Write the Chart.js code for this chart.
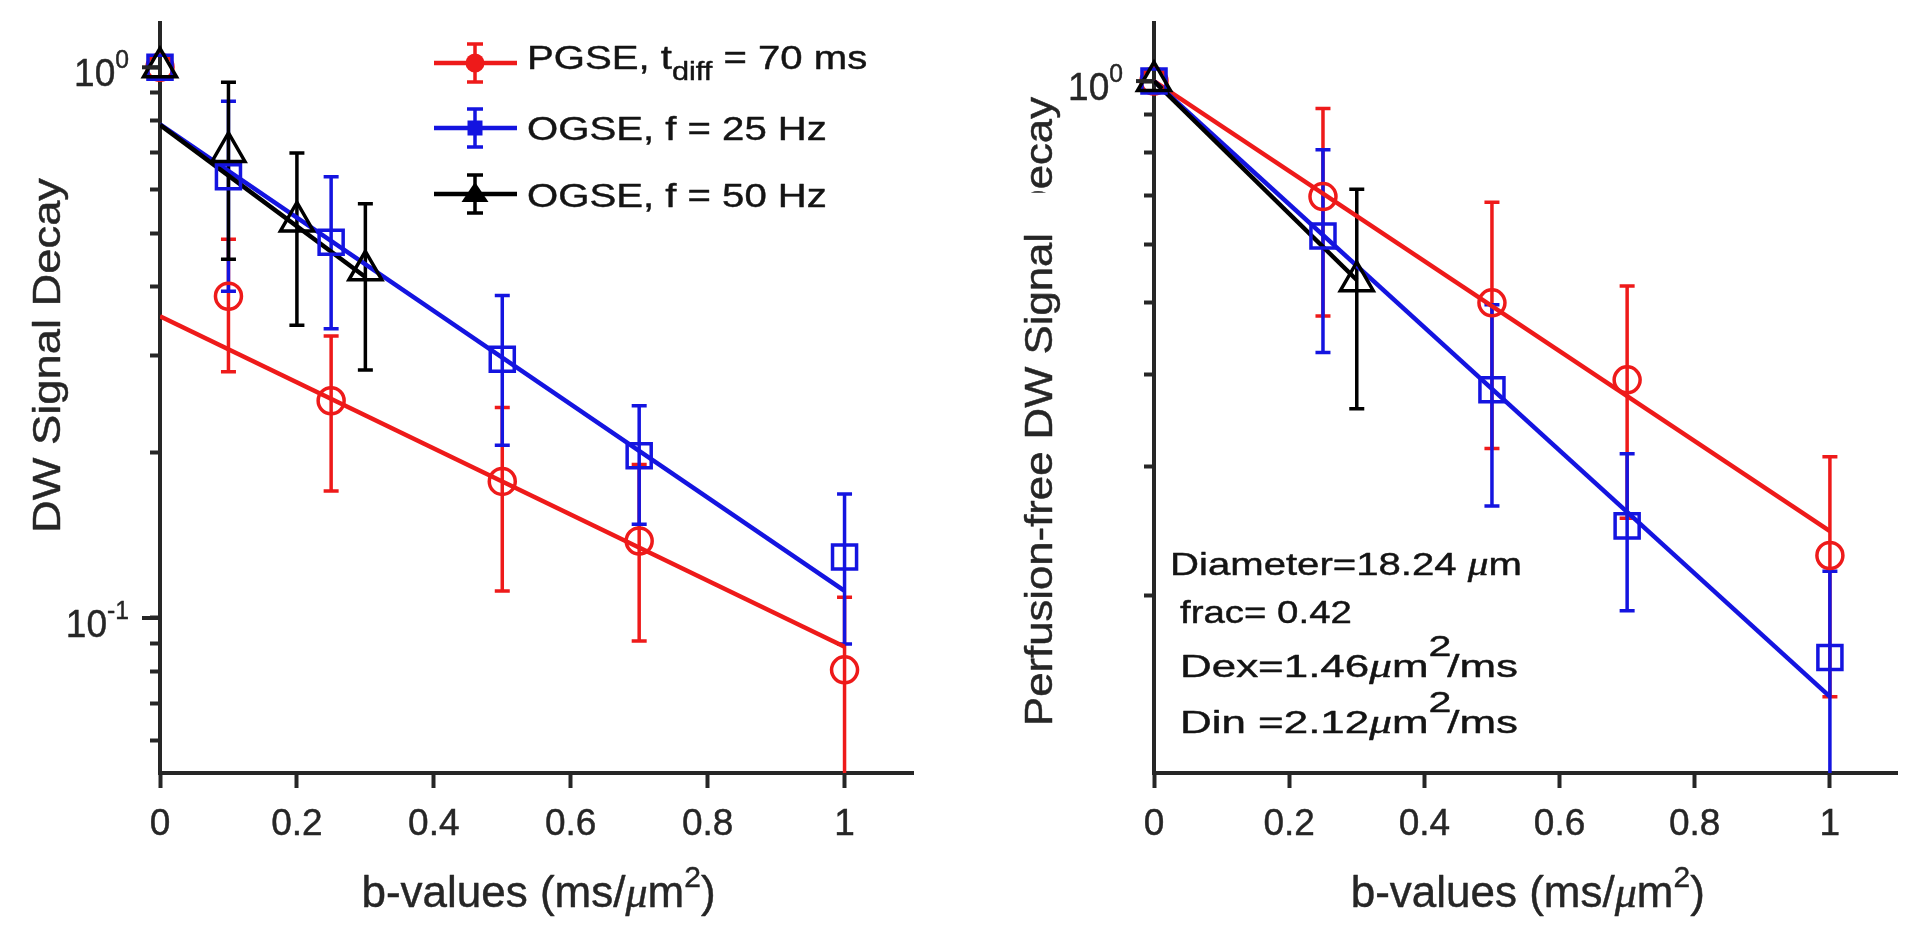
<!DOCTYPE html>
<html><head><meta charset="utf-8">
<script src="https://cdn.jsdelivr.net/npm/chart.js@4.4.0/dist/chart.umd.min.js"></script>
<style>
html,body{margin:0;padding:0;background:#fff;overflow:hidden;}
#wrap{position:relative;width:1920px;height:930px;background:#fff;}
canvas{position:absolute;top:0;}
#cL{left:0;} #cR{left:960px;}
</style></head><body>
<div id="wrap"><canvas id="cL" width="960" height="930"></canvas><canvas id="cR" width="960" height="930"></canvas></div>
<script>
// ================= DATA =================
const bTicks = [0, 0.2, 0.4, 0.6, 0.8, 1];
const yTicksLeft = [0.06, 0.07, 0.08, 0.09, 0.1, 0.2, 0.3, 0.4, 0.5, 0.6, 0.7, 0.8, 0.9, 1];
const yTicksRight = [0.2, 0.3, 0.4, 0.5, 0.6, 0.7, 0.8, 0.9, 1];
const seriesNames = ['PGSE, t_diff = 70 ms', 'OGSE, f = 25 Hz', 'OGSE, f = 50 Hz'];

// Left panel: DW signal decay
const leftB_PGSE   = [0, 0.1, 0.25, 0.5, 0.7, 1];
const leftS_PGSE   = [1.0, 0.384, 0.248, 0.177, 0.138, 0.0805];
const leftHi_PGSE  = [null, 0.487, 0.325, 0.241, 0.19, 0.109];
const leftLo_PGSE  = [null, 0.280, 0.170, 0.112, 0.0908, 0.045];
const leftB_O25    = [0, 0.1, 0.25, 0.5, 0.7, 1];
const leftS_O25    = [1.0, 0.633, 0.481, 0.295, 0.197, 0.129];
const leftHi_O25   = [null, 0.868, 0.633, 0.385, 0.243, 0.168];
const leftLo_O25   = [null, 0.392, 0.335, 0.206, 0.148, 0.0897];
const leftB_O50    = [0, 0.1, 0.2, 0.3];
const leftS_O50    = [1.0, 0.702, 0.525, 0.428];
const leftHi_O50   = [null, 0.939, 0.699, 0.565];
const leftLo_O50   = [null, 0.448, 0.340, 0.282];
const leftFitB_PGSE = [0, 1];    const leftFit_PGSE = [0.353, 0.0887];
const leftFitB_O25  = [0, 1];    const leftFit_O25  = [0.788, 0.112];
const leftFitB_O50  = [0, 0.3];  const leftFit_O50  = [0.786, 0.416];

// Right panel: perfusion-free DW signal decay
const rightB_PGSE  = [0, 0.25, 0.5, 0.7, 1];
const rightS_PGSE  = [1.0, 0.697, 0.500, 0.393, 0.227];
const rightHi_PGSE = [null, 0.918, 0.685, 0.527, 0.309];
const rightLo_PGSE = [null, 0.480, 0.317, 0.255, 0.146];
const rightB_O25   = [0, 0.25, 0.5, 0.7, 1];
const rightS_O25   = [1.0, 0.616, 0.381, 0.249, 0.165];
const rightHi_O25  = [null, 0.807, 0.497, 0.312, 0.216];
const rightLo_O25  = [null, 0.428, 0.265, 0.191, 0.11];
const rightB_O50   = [0, 0.3];
const rightS_O50   = [1.0, 0.535];
const rightHi_O50  = [null, 0.713];
const rightLo_O50  = [null, 0.359];
const rightFitB_PGSE = [0, 1];   const rightFit_PGSE = [1.0, 0.245];
const rightFitB_O25  = [0, 1];   const rightFit_O25  = [1.0, 0.146];
const rightFitB_O50  = [0, 0.3]; const rightFit_O50  = [1.0, 0.537];

// ================= STYLE =================
const RED = '#ee1a1a', BLUE = '#1414e0', BLACK = '#000000', AX = '#262626', TXT = '#141414';
const FONT = "'Liberation Sans', Arial, Helvetica, sans-serif";
const SERIF = "'Liberation Serif', 'Times New Roman', serif";
const LW_FIT = 4.5, LW_EB = 3.5, LW_MK = 3.5, LW_AX = 4;
const TSW = 0.45; // light text stroke for the slightly heavier look of the reference

function pts(b, s) { return b.map((v, i) => ({x: v, y: s[i]})); }
function fontOf(s) { return (s.italic ? 'italic ' : '') + s.size + 'px ' + (s.serif ? SERIF : FONT); }
function richWidth(ctx, segs) {
  let w = 0;
  for (const s of segs) { ctx.font = fontOf(s); w += ctx.measureText(s.t).width + (s.kern || 0); }
  return w;
}
function drawRich(ctx, x, y, segs, o) {
  o = o || {};
  let sx = o.sx || 1;
  ctx.save(); ctx.translate(x, y); if (o.rot) ctx.rotate(o.rot);
  const w = richWidth(ctx, segs);
  if (o.target) sx = o.target / w;
  ctx.scale(sx, 1);
  const col = o.color || '#000';
  ctx.textBaseline = 'alphabetic'; ctx.textAlign = 'left'; ctx.lineJoin = 'round';
  let cx = o.align === 'center' ? -w / 2 : o.align === 'right' ? -w : 0;
  const start = cx;
  for (const s of segs) {
    ctx.font = fontOf(s);
    ctx.fillStyle = col; ctx.strokeStyle = col; ctx.lineWidth = o.stroke == null ? TSW : o.stroke;
    ctx.fillText(s.t, cx, s.dy || 0);
    if (ctx.lineWidth > 0) ctx.strokeText(s.t, cx, s.dy || 0);
    cx += ctx.measureText(s.t).width + (s.kern || 0);
  }
  if (o.after) o.after(ctx, start, w);
  ctx.restore();
  return w;
}

function pointDs(label, b, s, hi, lo, color, style, r, order, ebOrder) {
  return {label, data: pts(b, s), showLine: false, pointStyle: style, pointRadius: r,
    pointBorderWidth: LW_MK, borderColor: color, pointBorderColor: color,
    backgroundColor: 'rgba(0,0,0,0)', pointBackgroundColor: 'rgba(0,0,0,0)',
    clip: false, order, eb: {hi, lo}, ebOrder};
}
function lineDs(label, b, s, color, order) {
  return {label, data: pts(b, s), showLine: true, pointRadius: 0, borderWidth: LW_FIT,
    borderColor: color, backgroundColor: color, order, fill: false};
}

const errorBarPlugin = {
  id: 'errbars',
  beforeDatasetsDraw(chart) {
    const {ctx, chartArea: a, scales: {x, y}} = chart;
    ctx.save();
    ctx.beginPath(); ctx.rect(a.left - 30, a.top - 30, a.right - a.left + 60, a.bottom - a.top + 30); ctx.clip();
    const list = chart.data.datasets.filter(d => d.eb).sort((p, q) => p.ebOrder - q.ebOrder);
    for (const ds of list) {
      ctx.strokeStyle = ds.borderColor; ctx.lineWidth = LW_EB; ctx.lineCap = 'butt';
      ds.data.forEach((p, i) => {
        const hi = ds.eb.hi[i], lo = ds.eb.lo[i];
        if (hi == null || lo == null) return;
        const px = x.getPixelForValue(p.x), ph = y.getPixelForValue(hi), pl = y.getPixelForValue(lo);
        ctx.beginPath();
        ctx.moveTo(px, ph); ctx.lineTo(px, pl);
        ctx.moveTo(px - 7.5, ph); ctx.lineTo(px + 7.5, ph);
        ctx.moveTo(px - 7.5, pl); ctx.lineTo(px + 7.5, pl);
        ctx.stroke();
      });
    }
    ctx.restore();
  }
};

function makeChart(id, cfg) {
  const plugin = {id: 'deco_' + id, afterDraw(chart) { cfg.deco(chart); }};
  return new Chart(document.getElementById(id), {
    type: 'scatter',
    data: {datasets: cfg.datasets},
    options: {
      responsive: false, animation: false, events: [],
      layout: {padding: {left: 0, right: cfg.padRight, top: 18, bottom: 0}},
      plugins: {legend: {display: false}, tooltip: {enabled: false}},
      scales: {
        x: {
          type: 'linear', min: 0, max: 1.1,
          afterBuildTicks: s => { s.ticks = bTicks.map(v => ({value: v})); },
          afterFit: s => { s.height = 157; },
          ticks: {callback: v => String(v), autoSkip: false, maxRotation: 0, color: AX,
            font: {family: FONT, size: 37}, padding: 15, textStrokeColor: AX, textStrokeWidth: TSW},
          grid: {drawOnChartArea: false, drawTicks: true, tickLength: 15, tickWidth: LW_AX, tickColor: AX, color: AX},
          border: {display: true, color: AX, width: LW_AX}
        },
        y: {
          type: 'logarithmic', min: cfg.yMin, max: cfg.yMax,
          afterBuildTicks: s => { s.ticks = cfg.yTicks.map(v => ({value: v})); },
          afterFit: s => { s.width = cfg.areaLeft; },
          ticks: {callback: () => '', autoSkip: false, padding: 0},
          grid: {drawOnChartArea: false, drawTicks: true, tickLength: 10, tickWidth: LW_AX, tickColor: AX, color: AX},
          border: {display: true, color: AX, width: LW_AX}
        }
      }
    },
    plugins: [errorBarPlugin, plugin]
  });
}

function majorTicksAndLabels(chart, majors) {
  const {ctx, chartArea: a, scales: {y}} = chart;
  for (const m of majors) {
    const py = y.getPixelForValue(m.v);
    ctx.save(); ctx.strokeStyle = AX; ctx.lineWidth = LW_AX;
    ctx.beginPath(); ctx.moveTo(a.left - 18, py); ctx.lineTo(a.left, py); ctx.stroke(); ctx.restore();
    drawRich(ctx, a.left - 31, py + 19, [{t: '10', size: 39}, {t: m.e, size: 26, dy: -18}],
      {align: 'right', sx: 0.95, color: AX});
  }
}

function xTitle(chart) {
  const {ctx, chartArea: a} = chart;
  drawRich(ctx, (a.left + a.right) / 2 + 2, 907, [
    {t: 'b-values (ms/', size: 44}, {t: 'μ', size: 44, italic: true, serif: true},
    {t: 'm', size: 44}, {t: '2', size: 30, dy: -20}, {t: ')', size: 44}
  ], {align: 'center', color: AX});
}

function yTitle(chart, text, bx, cy, target, coverD) {
  const ctx = chart.ctx;
  const segs = [{t: text, size: 38}];
  drawRich(ctx, bx, cy, segs, {rot: -Math.PI / 2, align: 'center', target, color: AX,
    after: coverD ? (c, start, w) => {
      c.font = fontOf(segs[0]);
      const idx = text.lastIndexOf('D');
      const w1 = c.measureText(text.slice(0, idx)).width;
      const wD = c.measureText('D').width;
      c.fillStyle = '#fff';
      c.fillRect(start + w1 - 2, -36, wD - 1, 48);
    } : null});
}

function legend(chart) {
  const ctx = chart.ctx;
  const rows = [
    {y: 63, color: RED, mk: 'circle', text: [{t: 'PGSE, t', size: 34}, {t: 'diff', size: 26, dy: 11}, {t: ' = 70 ms', size: 34}], tb: 69},
    {y: 128, color: BLUE, mk: 'square', text: [{t: 'OGSE, f = 25 Hz', size: 34}], tb: 140},
    {y: 194, color: BLACK, mk: 'triangle', text: [{t: 'OGSE, f = 50 Hz', size: 34}], tb: 207}
  ];
  for (const r of rows) {
    ctx.save();
    ctx.strokeStyle = r.color; ctx.fillStyle = r.color; ctx.lineWidth = 4.5;
    ctx.beginPath(); ctx.moveTo(434, r.y); ctx.lineTo(517, r.y); ctx.stroke();
    ctx.lineWidth = 3.5;
    const cx = 475;
    ctx.beginPath();
    ctx.moveTo(cx, r.y - 19); ctx.lineTo(cx, r.y + 19);
    ctx.moveTo(cx - 8, r.y - 19); ctx.lineTo(cx + 8, r.y - 19);
    ctx.moveTo(cx - 8, r.y + 19); ctx.lineTo(cx + 8, r.y + 19);
    ctx.stroke();
    ctx.beginPath();
    if (r.mk === 'circle') ctx.arc(cx, r.y, 9.5, 0, Math.PI * 2);
    else if (r.mk === 'square') ctx.rect(cx - 7.5, r.y - 7.5, 15, 15);
    else { ctx.moveTo(cx, r.y - 12); ctx.lineTo(cx + 13.5, r.y + 8); ctx.lineTo(cx - 13.5, r.y + 8); ctx.closePath(); }
    ctx.fill();
    ctx.restore();
    drawRich(ctx, 527, r.tb, r.text, {sx: 1.18, color: TXT});
  }
}

function annotation(chart) {
  const ctx = chart.ctx;
  const mu = {t: 'μ', size: 33, italic: true, serif: true};
  drawRich(ctx, 210, 575, [{t: 'Diameter=18.24 ', size: 32}, mu, {t: 'm', size: 32}], {target: 352, color: TXT});
  drawRich(ctx, 220, 623, [{t: 'frac= 0.42', size: 32}], {sx: 1.2, color: TXT});
  drawRich(ctx, 220, 677, [{t: 'Dex=1.46', size: 32}, mu, {t: 'm', size: 32}, {t: '2', size: 30, dy: -21, kern: -3}, {t: '/ms', size: 32}], {target: 338, color: TXT});
  drawRich(ctx, 220, 733, [{t: 'Din =2.12', size: 32}, mu, {t: 'm', size: 32}, {t: '2', size: 30, dy: -21, kern: -3}, {t: '/ms', size: 32}], {target: 338, color: TXT});
}

// ================= LEFT CHART =================
makeChart('cL', {
  areaLeft: 160, padRight: 47, yMin: 0.0523, yMax: 1.206, yTicks: yTicksLeft,
  datasets: [
    pointDs(seriesNames[2], leftB_O50, leftS_O50, leftHi_O50, leftLo_O50, BLACK, 'triangle', 19, 0, 2),
    pointDs(seriesNames[1], leftB_O25, leftS_O25, leftHi_O25, leftLo_O25, BLUE, 'rect', 17, 1, 1),
    pointDs(seriesNames[0], leftB_PGSE, leftS_PGSE, leftHi_PGSE, leftLo_PGSE, RED, 'circle', 13, 2, 0),
    lineDs('fit 50 Hz', leftFitB_O50, leftFit_O50, BLACK, 3),
    lineDs('fit 25 Hz', leftFitB_O25, leftFit_O25, BLUE, 4),
    lineDs('fit PGSE', leftFitB_PGSE, leftFit_PGSE, RED, 5)
  ],
  deco(chart) {
    majorTicksAndLabels(chart, [{v: 1, e: '0'}, {v: 0.1, e: '-1'}]);
    yTitle(chart, 'DW Signal Decay', 60, 355.5, 355, false);
    xTitle(chart);
    legend(chart);
  }
});

// ================= RIGHT CHART =================
makeChart('cR', {
  areaLeft: 194, padRight: 13, yMin: 0.115, yMax: 1.201, yTicks: yTicksRight,
  datasets: [
    pointDs(seriesNames[2], rightB_O50, rightS_O50, rightHi_O50, rightLo_O50, BLACK, 'triangle', 19, 0, 2),
    pointDs(seriesNames[1], rightB_O25, rightS_O25, rightHi_O25, rightLo_O25, BLUE, 'rect', 17, 1, 1),
    pointDs(seriesNames[0], rightB_PGSE, rightS_PGSE, rightHi_PGSE, rightLo_PGSE, RED, 'circle', 13, 2, 0),
    lineDs('fit 50 Hz', rightFitB_O50, rightFit_O50, BLACK, 3),
    lineDs('fit 25 Hz', rightFitB_O25, rightFit_O25, BLUE, 4),
    lineDs('fit PGSE', rightFitB_PGSE, rightFit_PGSE, RED, 5)
  ],
  deco(chart) {
    majorTicksAndLabels(chart, [{v: 1, e: '0'}]);
    yTitle(chart, 'Perfusion-free DW Signal Decay', 92, 411.5, 629, true);
    xTitle(chart);
    annotation(chart);
  }
});
</script>
</body></html>
